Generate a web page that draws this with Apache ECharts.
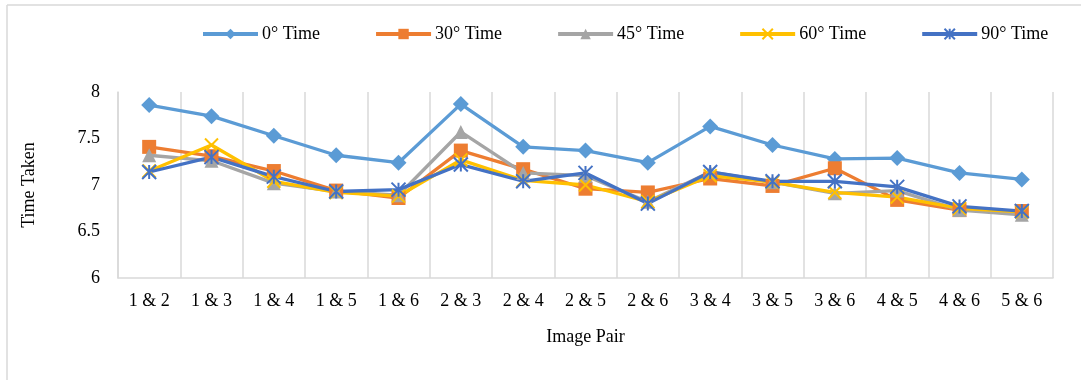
<!DOCTYPE html>
<html>
<head>
<meta charset="utf-8">
<script src="https://cdn.jsdelivr.net/npm/echarts@6/dist/echarts.min.js"></script>
<style>
html,body{margin:0;padding:0;background:#fff;}
#chart{width:1081px;height:380px;}
</style>
</head>
<body>
<div id="chart"></div>
<script>
var categories = ['1 & 2','1 & 3','1 & 4','1 & 5','1 & 6','2 & 3','2 & 4','2 & 5','2 & 6','3 & 4','3 & 5','3 & 6','4 & 5','4 & 6','5 & 6'];
var seriesNames = ['0° Time','30° Time','45° Time','60° Time','90° Time'];
var time0  = [7.86, 7.74, 7.53, 7.32, 7.24, 7.87, 7.41, 7.37, 7.24, 7.63, 7.43, 7.28, 7.29, 7.13, 7.06];
var time30 = [7.41, 7.31, 7.15, 6.94, 6.86, 7.37, 7.17, 6.96, 6.92, 7.07, 6.99, 7.18, 6.84, 6.73, 6.72];
var time45 = [7.32, 7.26, 7.02, 6.93, 6.89, 7.57, 7.13, 7.10, 6.82, 7.14, 7.03, 6.91, 6.94, 6.73, 6.68];
var time60 = [7.15, 7.43, 7.04, 6.92, 6.88, 7.27, 7.05, 7.00, 6.82, 7.10, 7.03, 6.92, 6.87, 6.75, 6.71];
var time90 = [7.14, 7.30, 7.09, 6.93, 6.95, 7.22, 7.04, 7.13, 6.80, 7.14, 7.04, 7.04, 6.98, 6.77, 6.72];
var yTicks = {min: 6, max: 8, interval: 0.5};

var FONT = '"Liberation Serif","Times New Roman",serif';
var colors = ['#5B9BD5','#ED7D31','#A5A5A5','#FFC000','#4472C4'];
var symbols = [
  'diamond',
  'rect',
  'triangle',
  'path://M0,0L10,10M10,0L0,10',
  'path://M5,0L5,10M0,0L10,10M10,0L0,10'
];
var sizes = [16, 14, 14, 13, 14];
var datas = [time0, time30, time45, time60, time90];

var series = datas.map(function(d, i){
  var stroked = i >= 3;
  return {
    name: seriesNames[i],
    type: 'line',
    data: d,
    symbol: symbols[i],
    symbolSize: sizes[i],
    showAllSymbol: true,
    lineStyle: {color: colors[i], width: 3.3},
    itemStyle: {color: colors[i], borderColor: colors[i], borderWidth: stroked ? 2 : 0},
    emphasis: {disabled: true},
    animation: false
  };
});

var chart = echarts.init(document.getElementById('chart'), null, {renderer: 'canvas'});
chart.setOption({
  animation: false,
  backgroundColor: '#fff',
  color: colors,
  textStyle: {fontFamily: FONT},
  grid: {left: 118, right: 28, top: 92, bottom: 102},
  legend: {
    left: 196, top: 20,
    itemWidth: 55, itemHeight: 13, itemGap: 54,
    lineStyle: {width: 4},
    textStyle: {fontFamily: FONT, fontSize: 18, color: '#000', padding: [0,0,0,-1]},
    data: seriesNames
  },
  xAxis: {
    type: 'category',
    data: categories,
    boundaryGap: true,
    axisLine: {show: true, lineStyle: {color: '#d9d9d9', width: 1.5}},
    axisTick: {show: false},
    splitLine: {show: true, lineStyle: {color: '#d9d9d9', width: 1.5}},
    axisLabel: {fontFamily: FONT, fontSize: 18, color: '#000', margin: 14, interval: 0},
    name: 'Image Pair',
    nameLocation: 'middle',
    nameGap: 50,
    nameTextStyle: {fontFamily: FONT, fontSize: 18, color: '#000'}
  },
  yAxis: {
    type: 'value',
    min: yTicks.min, max: yTicks.max, interval: yTicks.interval,
    axisLine: {show: true, lineStyle: {color: '#d9d9d9', width: 1.5}},
    axisTick: {show: false},
    splitLine: {show: false},
    axisLabel: {fontFamily: FONT, fontSize: 18, color: '#000', margin: 18},
    name: 'Time Taken',
    nameLocation: 'middle',
    nameGap: 80,
    nameTextStyle: {fontFamily: FONT, fontSize: 18, color: '#000'}
  },
  graphic: [
    {type: 'line', shape: {x1: 7, y1: 5, x2: 1081, y2: 5}, style: {stroke: '#d9d9d9', lineWidth: 1.5}, silent: true},
    {type: 'line', shape: {x1: 7, y1: 5, x2: 7, y2: 380}, style: {stroke: '#d9d9d9', lineWidth: 1.5}, silent: true}
  ],
  series: series
});
</script>
</body>
</html>
